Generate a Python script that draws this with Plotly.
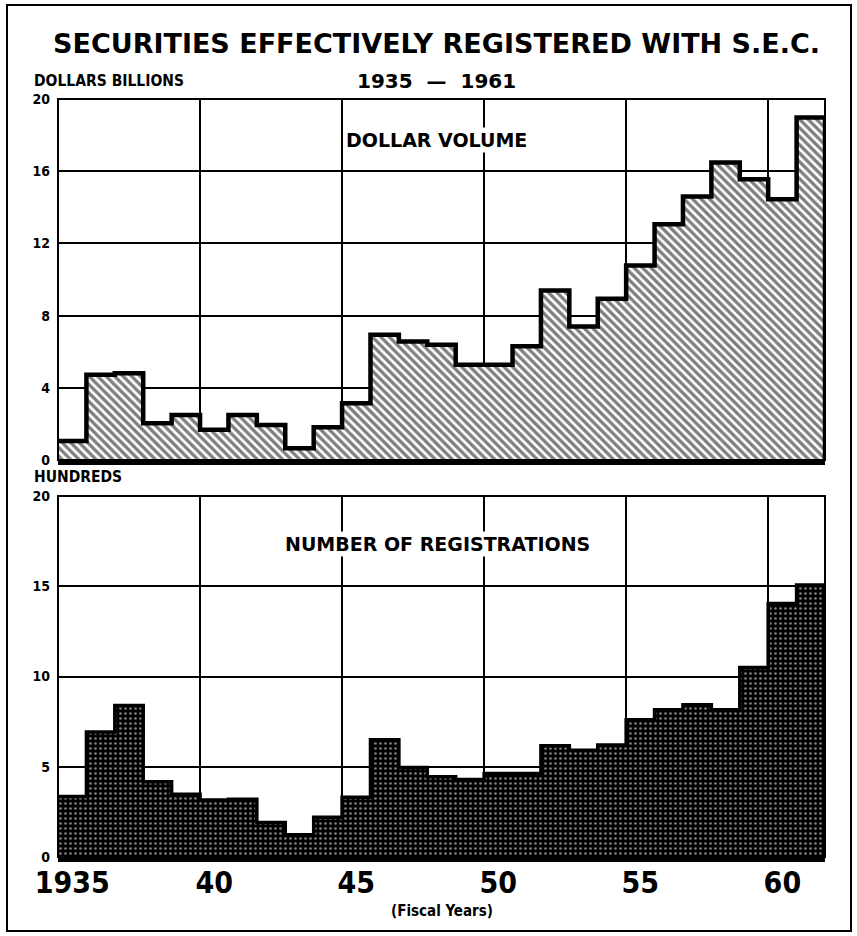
import plotly.graph_objects as go

W, H = 857, 936

years = list(range(1935, 1962))
dollar_volume = [1.05, 4.72, 4.81, 2.04, 2.5, 1.67, 2.5, 1.94, 0.65, 1.81, 3.15, 6.94, 6.57,
                 6.39, 5.28, 5.28, 6.3, 9.39, 7.4, 8.94, 10.78, 13.06, 14.6, 16.48, 15.56, 14.44, 18.98]
registrations = [3.35, 6.93, 8.4, 4.17, 3.47, 3.16, 3.2, 1.91, 1.23, 2.2, 3.31, 6.5, 4.96,
                 4.45, 4.3, 4.63, 4.63, 6.16, 5.92, 6.2, 7.6, 8.16, 8.44, 8.16, 10.5, 14.04, 15.07]
x_tick_years = [1935, 1940, 1945, 1950, 1955, 1960]
x_tick_text = ["1935", "40", "45", "50", "55", "60"]
top_yticks = [0, 4, 8, 12, 16, 20]
bot_yticks = [0, 5, 10, 15, 20]

def px(x):
    return x / W

def py(y):
    return 1 - y / H

centers = [y + 0.5 for y in years]
edges = years + [years[-1] + 1, years[-1] + 1]

fig = go.Figure()

fig.add_trace(go.Bar(
    x=centers, y=dollar_volume, width=1, xaxis="x", yaxis="y",
    marker=dict(color="white", line=dict(width=0),
                pattern=dict(shape="\\", fgcolor="black", bgcolor="white", size=6, solidity=0.55)),
    showlegend=False, hoverinfo="skip"))
fig.add_trace(go.Scatter(
    x=edges, y=dollar_volume + [dollar_volume[-1], 0], xaxis="x", yaxis="y",
    mode="lines", line=dict(color="black", width=4.5, shape="hv"),
    showlegend=False, hoverinfo="skip"))

fig.add_trace(go.Bar(
    x=centers, y=registrations, width=1, xaxis="x2", yaxis="y2",
    marker=dict(color="black", line=dict(width=0),
                pattern=dict(shape=".", fgcolor="white", bgcolor="black", size=5, solidity=0.22)),
    showlegend=False, hoverinfo="skip"))
fig.add_trace(go.Scatter(
    x=edges, y=registrations + [registrations[-1], 0], xaxis="x2", yaxis="y2",
    mode="lines", line=dict(color="black", width=3.5, shape="hv"),
    showlegend=False, hoverinfo="skip"))

xdom = [px(58), px(825)]
tick_font = dict(family="DejaVu Sans Condensed", size=14, color="black", weight="bold")
label_centers = [y + 0.5 for y in x_tick_years]

common_x = dict(range=[1935, 1962], domain=xdom, showgrid=False, zeroline=False,
                showline=True, linecolor="black", linewidth=5, ticks="",
                tickvals=label_centers, ticktext=x_tick_text,
                minor=dict(tick0=1935, dtick=5, showgrid=True, gridcolor="black", gridwidth=1.5),
                automargin=False, fixedrange=True)

fig.update_layout(
    width=W, height=H,
    margin=dict(l=0, r=0, t=0, b=0),
    paper_bgcolor="white", plot_bgcolor="white",
    bargap=0,
    xaxis=dict(**common_x, anchor="y", showticklabels=False),
    xaxis2=dict(**common_x, anchor="y2",
                tickfont=dict(family="Liberation Sans Narrow, DejaVu Sans Condensed", size=30,
                              color="black", weight="bold"),
                ticklabelstandoff=-5),
    yaxis=dict(domain=[py(460), py(99)], range=[0, 20], tickvals=top_yticks,
               showgrid=True, gridcolor="black", gridwidth=1.5, zeroline=False,
               showline=False, ticks="", tickfont=tick_font, ticklabelstandoff=7,
               automargin=False, anchor="x", fixedrange=True),
    yaxis2=dict(domain=[py(857), py(496)], range=[0, 20], tickvals=bot_yticks,
                showgrid=True, gridcolor="black", gridwidth=1.5, zeroline=False,
                showline=False, ticks="", tickfont=tick_font, ticklabelstandoff=7,
                automargin=False, anchor="x2", fixedrange=True),
    font=dict(family="DejaVu Sans", color="black"),
)

# plot frames
for xr, yr in (("x domain", "y domain"), ("x2 domain", "y2 domain")):
    fig.add_shape(type="rect", xref=xr, yref=yr, x0=0, x1=1, y0=0, y1=1,
                  line=dict(color="black", width=2), fillcolor="rgba(0,0,0,0)", layer="above")
# outer border
fig.add_shape(type="rect", xref="paper", yref="paper", x0=px(7), x1=px(851), y0=py(931), y1=py(5),
              line=dict(color="black", width=2), fillcolor="rgba(0,0,0,0)")

ann = [
    dict(text="SECURITIES EFFECTIVELY REGISTERED WITH S.E.C.", x=px(437), y=py(43),
         font=dict(family="DejaVu Sans", size=27, color="black", weight="bold")),
    dict(text="1935  —  1961", x=px(437), y=py(81),
         font=dict(family="DejaVu Sans", size=20, color="black", weight="bold")),
    dict(text="DOLLARS BILLIONS", x=px(32), y=py(81), xanchor="left",
         font=dict(family="DejaVu Sans Condensed", size=15.5, color="black", weight="bold")),
    dict(text="HUNDREDS", x=px(32), y=py(477), xanchor="left",
         font=dict(family="DejaVu Sans Condensed", size=15.5, color="black", weight="bold")),
    dict(text="DOLLAR VOLUME", x=px(437), y=py(140), bgcolor="white",
         font=dict(family="DejaVu Sans", size=19, color="black", weight="bold")),
    dict(text="NUMBER OF REGISTRATIONS", x=px(438), y=py(544), bgcolor="white",
         font=dict(family="DejaVu Sans", size=19, color="black", weight="bold")),
    dict(text="(Fiscal Years)", x=px(442), y=py(911),
         font=dict(family="DejaVu Sans Condensed", size=15, color="black", weight="bold")),
]
for a in ann:
    a.setdefault("xanchor", "center")
    fig.add_annotation(xref="paper", yref="paper", yanchor="middle", showarrow=False, **a)

fig.write_html("out.html", config={"displayModeBar": False},
               post_script="document.body.style.margin='0';document.body.style.overflow='hidden';")
